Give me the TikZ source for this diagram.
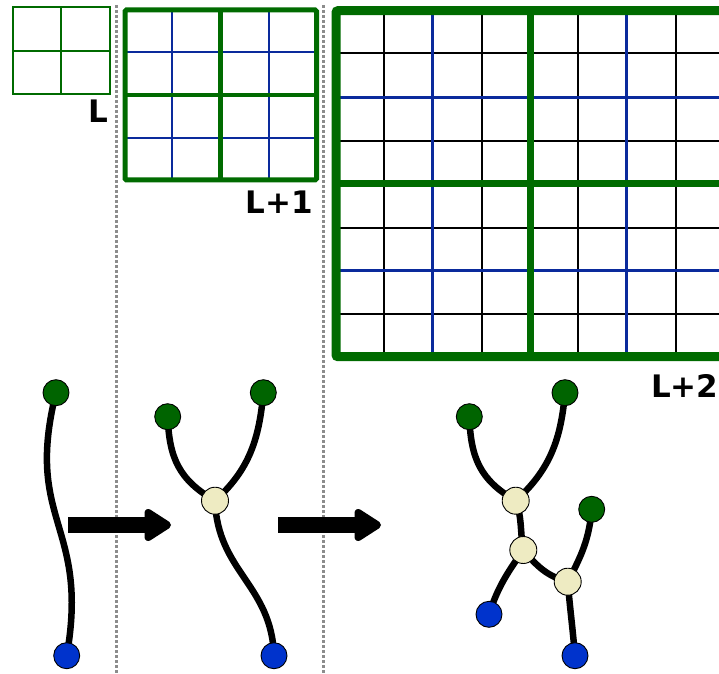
\documentclass[tikz,border=0pt]{standalone}
\usepackage{fontspec}
\setmainfont{DejaVu Sans}
\usetikzlibrary{arrows.meta,backgrounds}
\definecolor{gridgreen}{HTML}{006B00}
\definecolor{gridblue}{HTML}{0A2A9C}
\definecolor{nodegreen}{HTML}{006400}
\definecolor{nodeblue}{HTML}{0033CC}
\definecolor{nodeyellow}{HTML}{EEEBC2}
\definecolor{sepgray}{HTML}{8C8C8C}
\tikzset{
  gnode/.style={circle,draw=black,line width=0.9pt,fill=nodegreen,minimum size=26pt,inner sep=0pt},
  bnode/.style={circle,draw=black,line width=0.9pt,fill=nodeblue,minimum size=26pt,inner sep=0pt},
  ynode/.style={circle,draw=black,line width=0.9pt,fill=nodeyellow,minimum size=27pt,inner sep=0pt},
  link/.style={line width=6.5pt,line cap=round,black},
  sep/.style={sepgray,line width=3pt,dash pattern=on 2.6pt off 2.4pt},
  bigarrow/.style={line width=16pt,-{Triangle[length=30pt,width=36pt,round]}},
  lvl/.style={font=\bfseries\fontsize{31}{32}\selectfont,inner sep=0pt}
}
\begin{document}
\begin{tikzpicture}[x=1pt,y=1pt]
\useasboundingbox (0,0) rectangle (719,673);
\clip (0,0) rectangle (719,673);
% separators
\draw[sep] (116,668) -- (116,0);
\draw[sep] (323.5,668) -- (323.5,0);
% level L grid (y = 673 - py)
\draw[gridgreen,line width=2pt] (12.5,666) rectangle (110,579);
\draw[gridgreen,line width=2pt] (61.3,666) -- (61.3,579) (12.5,622.3) -- (110,622.3);
\node[lvl,anchor=base east] (lL) at (108,550) {L};
% level L+1 grid
\draw[gridblue,line width=2pt] (172,663) -- (172,493) (269.3,663) -- (269.3,493)
   (125,621.3) -- (316.5,621.3) (125,535.3) -- (316.5,535.3);
\draw[gridgreen,line width=4.5pt] (220.7,663) -- (220.7,493) (125,578) -- (316.5,578);
\draw[gridgreen,line width=5pt,rounded corners=1.5pt] (125,663) rectangle (316.5,493);
\node[lvl,anchor=base east] (lL1) at (313,459) {L+1};
% level L+2 grid
\foreach \x in {384.3,482.3,577.7,675.7}
  \draw[black,line width=2pt] (\x,662.3) -- (\x,316.3);
\foreach \y in {619.7,532.3,445.3,358.7}
  \draw[black,line width=2pt] (336,\y) -- (724,\y);
\foreach \x in {432.7,626.7}
  \draw[gridblue,line width=3pt] (\x,662.3) -- (\x,316.3);
\foreach \y in {575.3,402.3}
  \draw[gridblue,line width=3pt] (336,\y) -- (724,\y);
\draw[gridgreen,line width=7pt] (530,662.3) -- (530,316.3) (336,489.7) -- (724,489.7);
\draw[gridgreen,line width=9pt,rounded corners=2pt] (336,662.3) rectangle (724,316.3);
\node[lvl,anchor=base east] (lL2) at (718.5,276) {L+2};
% block arrows
\coordinate (a1s) at (68,148);
\coordinate (a1e) at (171,148);
\coordinate (a2s) at (278,148);
\coordinate (a2e) at (381,148);
\draw[bigarrow] (a1s) -- (a1e);
\draw[bigarrow] (a2s) -- (a2e);
% trees
\node[gnode] (g1) at (56,280.3) {};
\node[bnode] (b1) at (66.7,17.3) {};
\node[gnode] (g2) at (167.7,256.3) {};
\node[gnode] (g3) at (263.3,280.3) {};
\node[ynode] (y0) at (215,172.3) {};
\node[bnode] (b2) at (274,17.3) {};
\node[gnode] (g4) at (469.3,256.3) {};
\node[gnode] (g5) at (565,280.3) {};
\node[gnode] (g6) at (591.7,163.7) {};
\node[ynode] (ya) at (515.7,172.3) {};
\node[ynode] (yb) at (523.3,123) {};
\node[ynode] (yc) at (567.7,91.3) {};
\node[bnode] (b3) at (489,58.7) {};
\node[bnode] (b4) at (575,17.3) {};
\begin{scope}[on background layer]
\draw[link] (g1.center) to[out=-104,in=80,looseness=1.3] (b1.center);
\draw[link] (g2.center) to[out=-88,in=150,looseness=1.1] (y0.center);
\draw[link] (g3.center) to[out=-95,in=42] (y0.center);
\draw[link] (y0.center) to[out=-88,in=92,looseness=1.1] (b2.center);
\draw[link] (g4.center) to[out=-88,in=150,looseness=1.1] (ya.center);
\draw[link] (g5.center) to[out=-95,in=42] (ya.center);
\draw[link] (ya.center) to[out=-70,in=100] (yb.center);
\draw[link] (yb.center) to[out=-125,in=72] (b3.center);
\draw[link] (yb.center) to[out=-50,in=165] (yc.center);
\draw[link] (g6.center) to[out=-95,in=62] (yc.center);
\draw[link] (yc.center) to[out=-85,in=95] (b4.center);
\end{scope}
\end{tikzpicture}
\end{document}
